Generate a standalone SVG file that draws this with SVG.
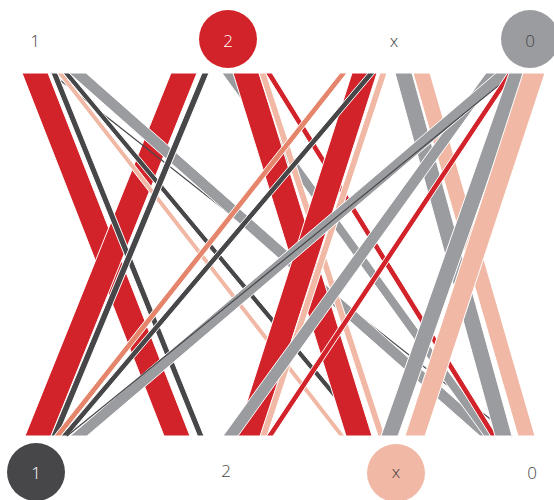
<svg xmlns="http://www.w3.org/2000/svg" width="554" height="500" viewBox="0 0 554 500">
<style>
.l{stroke:#fff;stroke-width:1}
.r{fill:#d2232a}.d{fill:#47474a}.g{fill:#9b9ca0}.s{fill:#f1b9a5}.o{fill:#e5866c}
.k{stroke:#47474a;stroke-width:1.2;fill:none}
.t{font-family:"Open Sans","Liberation Sans",sans-serif;font-weight:300;font-size:17px;text-anchor:middle;fill:#444}
.w{fill:#fff}
</style>
<g id="links">
<polygon class="l r" points="22,73 48,73 190,436 164,436"/>
<polygon class="l r" points="171,73 197,73 51,436 25,436"/>
<line class="k" x1="51" y1="73" x2="512" y2="436"/>
<polygon class="l d" points="51,73 57.5,73 204,436 197.5,436"/>
<polygon class="l s" points="57,73 63,73 345,436 339,436"/>
<polygon class="l d" points="63,73 69.5,73 372,436 365.5,436"/>
<polygon class="l g" points="69,73 86,73 497,436 480,436"/>
<polygon class="l d" points="202,73 209,73 58,436 51,436"/>
<polygon class="l g" points="222,73 233,73 495,436 484,436"/>
<polygon class="l r" points="233,73 259,73 372,436 346,436"/>
<polygon class="l s" points="259,73 266,73 385,436 378,436"/>
<polygon class="l r" points="265.5,73 272,73 497,436 490.5,436"/>
<polygon class="l o" points="340,73 347,73 61,436 54,436"/>
<polygon class="l r" points="352,73 377,73 261,436 236,436"/>
<polygon class="l d" points="368,73 375,73 68,436 61,436"/>
<polygon class="l s" points="380,73 387,73 267,436 260,436"/>
<polygon class="l g" points="395,73 412,73 512,436 495,436"/>
<polygon class="l s" points="413,73 430,73 535,436 518,436"/>
<polygon class="l g" points="486,73 499,73 238,436 223,436"/>
<polygon class="l g" points="496,73 513,73 87,436 70,436"/>
<line class="k" x1="514" y1="73" x2="67" y2="436"/>
<polygon class="l r" points="507.5,73 514,73 273,436 266.5,436"/>
<polygon class="l g" points="509,73 526,73 398,436 381,436"/>
<polygon class="l s" points="523,73 545,73 425,436 405,436"/>
</g>
<g id="top-1"><text class="t" x="35" y="47">1</text></g>
<g id="top-2"><circle cx="228" cy="39" r="29" class="r"/><text class="t w" x="228" y="47">2</text></g>
<g id="top-x"><text class="t" x="394" y="47">x</text></g>
<g id="top-0"><circle cx="530" cy="39" r="29" class="g"/><text class="t" x="530" y="47">0</text></g>
<g id="bottom-1"><circle cx="36" cy="472" r="29" class="d"/><text class="t w" x="36" y="479">1</text></g>
<g id="bottom-2"><text class="t" x="226" y="477">2</text></g>
<g id="bottom-x"><circle cx="396" cy="473" r="29" class="s"/><text class="t" x="396" y="478">x</text></g>
<g id="bottom-0"><text class="t" x="532" y="479">0</text></g>
</svg>
